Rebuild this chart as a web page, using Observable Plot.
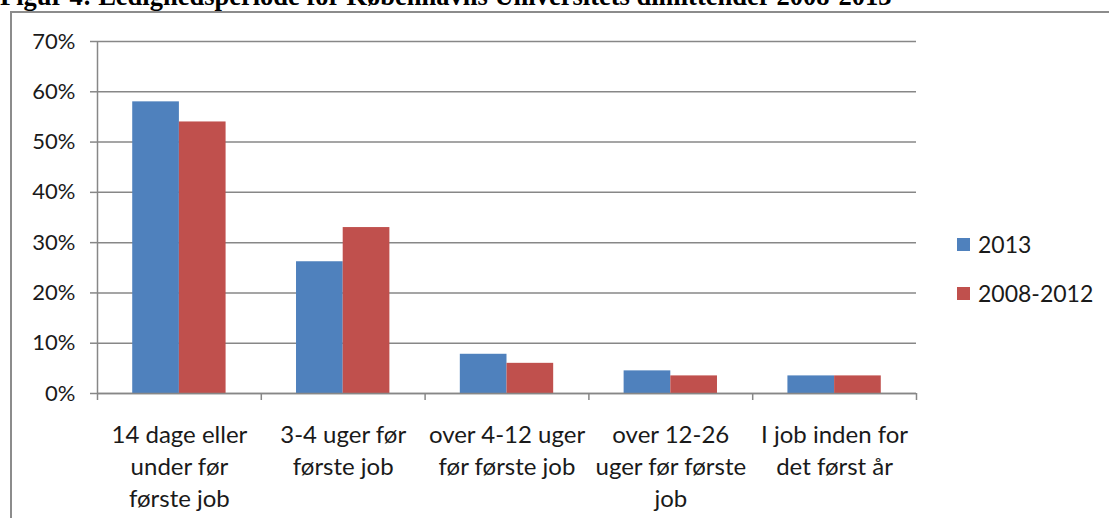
<!DOCTYPE html>
<html>
<head>
<meta charset="utf-8">
<script src="https://cdn.jsdelivr.net/npm/d3@7"></script>
<script src="https://cdn.jsdelivr.net/npm/@observablehq/plot@0.6"></script>
<style>
  html, body { margin: 0; padding: 0; background: #fff; }
  #wrap { position: relative; width: 1109px; height: 518px; overflow: hidden; font-family: Lato, "Open Sans", sans-serif; }
  #title { position: absolute; left: 0; top: -17.5px; font-family: "Liberation Serif", "Times New Roman", serif; font-weight: bold; font-size: 26.5px; line-height: 26.5px; white-space: nowrap; color: #000; }
  #box { position: absolute; left: 10px; top: 11px; width: 1200px; height: 600px; border-top: 2px solid #8c8c8c; border-left: 2px solid #8c8c8c; }
  #chart { position: absolute; left: 0; top: 0; }
  #legend { position: absolute; left: 957px; top: 227px; font-size: 23px; color: #1a1a1a; }
  .item { display: flex; align-items: center; height: 34px; margin-bottom: 15px; }
  .sw { width: 13px; height: 13px; margin-right: 8px; }
</style>
</head>
<body>
<div id="wrap">
  <div id="title">Figur 4: Ledighedsperiode for Københavns Universitets dimittender 2008-2013</div>
  <div id="box"></div>
  <div id="chart"></div>
  <div id="legend"></div>
</div>
<script>
// Data
const categories = [
  "14 dage eller\nunder før\nførste job",
  "3-4 uger før\nførste job",
  "over 4-12 uger\nfør første job",
  "over 12-26\nuger før første\njob",
  "I job inden for\ndet først år"
];
const seriesNames = ["2013", "2008-2012"];
const values2013 = [0.58, 0.262, 0.078, 0.045, 0.035];
const values2008_2012 = [0.54, 0.33, 0.06, 0.035, 0.035];
const seriesColors = ["#4F81BD", "#C0504D"];
const yTicks = [0, 0.1, 0.2, 0.3, 0.4, 0.5, 0.6, 0.7];

// Build table: each category occupies index slot [i, i+1]
const seriesValues = [values2013, values2008_2012];
const barInset = 0.215; // fraction of category slot left empty at each side
const half = (1 - 2 * barInset) / 2;
const rows = [];
seriesNames.forEach((s, k) => {
  categories.forEach((c, i) => {
    rows.push({
      series: s,
      category: c,
      x1: i + barInset + k * half,
      x2: i + barInset + (k + 1) * half,
      value: seriesValues[k][i]
    });
  });
});
const boundaries = d3.range(categories.length + 1);
const centers = categories.map((c, i) => i + 0.5);

const gridColor = "#878787";
const chart = Plot.plot({
  width: 1109,
  height: 518,
  marginLeft: 97,
  marginRight: 193,
  marginTop: 41,
  marginBottom: 125,
  style: { fontFamily: "Lato, 'Open Sans', sans-serif", color: "#1a1a1a", background: "transparent" },
  x: { type: "linear", domain: [0, categories.length], axis: null },
  y: { domain: [0, 0.7], axis: null },
  color: { domain: seriesNames, range: seriesColors },
  marks: [
    Plot.gridY(yTicks, { stroke: gridColor, strokeOpacity: 1, strokeWidth: 1.5 }),
    Plot.axisY({ ticks: yTicks, tickFormat: d3.format(".0%"), label: null, tickSize: 7, tickPadding: 15, fontSize: 22, stroke: gridColor, strokeWidth: 1.5, strokeOpacity: 1 }),
    Plot.rectY(rows, { x1: "x1", x2: "x2", y: "value", fill: "series" }),
    Plot.ruleY([0], { stroke: gridColor, strokeWidth: 1.5 }),
    Plot.ruleX([0], { stroke: gridColor, strokeWidth: 1.5 }),
    Plot.axisX({ ticks: boundaries, tickFormat: () => "", label: null, tickSize: 7, stroke: gridColor, strokeWidth: 1.5, strokeOpacity: 1 }),
    Plot.axisX({ ticks: centers, tickFormat: d => categories[Math.floor(d)], label: null, tickSize: 0, tickPadding: 27, fontSize: 24, lineHeight: 1.333 })
  ]
});
document.getElementById("chart").appendChild(chart);

// Legend
const legend = document.getElementById("legend");
seriesNames.forEach((s, k) => {
  const item = document.createElement("div");
  item.className = "item";
  const sw = document.createElement("div");
  sw.className = "sw";
  sw.style.background = seriesColors[k];
  const label = document.createElement("span");
  label.textContent = s;
  item.appendChild(sw);
  item.appendChild(label);
  legend.appendChild(item);
});
</script>
</body>
</html>
